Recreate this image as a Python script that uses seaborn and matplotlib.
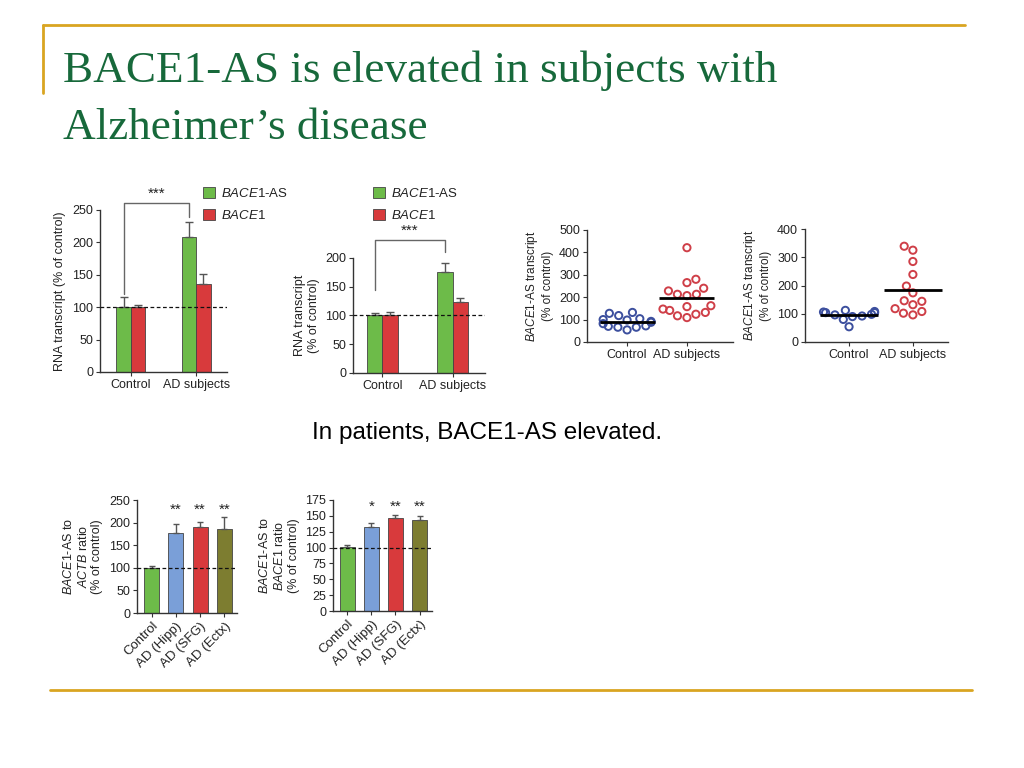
import numpy as np
import pandas as pd
import matplotlib.pyplot as plt
import seaborn as sns

# colours
GREEN = '#6dbb49'
RED = '#d83a3c'
BLUE = '#7a9fd8'
OLIVE = '#7d7d30'
PT_BLUE = '#3c4f9e'
PT_RED = '#cf3f48'
GOLD = '#d9a521'
TITLE_GREEN = '#17693b'
INK = '#333333'

# top-left / top-middle bar panels
groups = ['Control', 'AD subjects']
genes = [r'$\mathit{BACE1}$-AS', r'$\mathit{BACE1}$']
a_as_mean = [100, 208]
a_as_top = [116, 232]
a_b1_mean = [100, 136]
a_b1_top = [104, 152]
b_as_mean = [100, 176]
b_as_top = [104, 191]
b_b1_mean = [100, 124]
b_b1_top = [106, 130]

# scatter panels (BACE1-AS transcript, % of control)
c_control = [118, 132, 104, 98, 88, 82, 128, 72, 66, 54, 66, 70, 92, 100]
c_ad = [421, 280, 265, 240, 228, 213, 207, 213, 162, 158, 141, 147, 132, 124, 109, 117]
d_control = [108, 104, 98, 92, 90, 104, 112, 106, 96, 80, 54]
d_ad = [339, 325, 285, 239, 198, 174, 144, 146, 132, 108, 96, 102, 118]

# bottom ratio panels
regions = ['Control', 'AD (Hipp)', 'AD (SFG)', 'AD (Ectx)']
region_colors = [GREEN, BLUE, RED, OLIVE]
e_mean = [100, 178, 190, 186]
e_top = [104, 198, 201, 212]
e_stars = ['', '**', '**', '**']
f_mean = [101, 132, 146, 143]
f_top = [104, 139, 152, 149]
f_stars = ['', '*', '**', '**']

sns.set_theme(style='ticks')
plt.rcParams['font.family'] = ['Liberation Sans', 'DejaVu Sans']
plt.rcParams['mathtext.fontset'] = 'custom'
plt.rcParams['mathtext.rm'] = 'Liberation Sans'
plt.rcParams['mathtext.it'] = 'Liberation Sans:italic'
plt.rcParams['mathtext.bf'] = 'Liberation Sans:bold'
plt.rcParams['axes.edgecolor'] = INK
plt.rcParams['axes.linewidth'] = 1.0
plt.rcParams['xtick.color'] = INK
plt.rcParams['ytick.color'] = INK
plt.rcParams['text.color'] = '#222222'
plt.rcParams['axes.labelcolor'] = '#222222'

W, H = 1024, 768
fig = plt.figure(figsize=(W / 100, H / 100), dpi=100)
fig.patch.set_facecolor('white')


def add_ax(left, top, right, bottom):
    return fig.add_axes([left / W, 1 - bottom / H, (right - left) / W, (bottom - top) / H])


def style_ax(ax, ylim, step, size=9):
    ax.set_ylim(0, ylim)
    ax.set_yticks(np.arange(0, ylim + 1, step))
    ax.tick_params(axis='both', direction='out', length=3, width=0.8,
                   labelsize=size, pad=2, colors=INK, labelcolor='#222222')
    ax.set_xlabel('')
    ax.set_facecolor('none')
    sns.despine(ax=ax)


def pair_panel(ax, as_mean, as_top, b1_mean, b1_top, ylim, xlim, legend_xy, ylabel):
    df = pd.DataFrame({
        'group': groups * 2,
        'gene': [genes[0]] * 2 + [genes[1]] * 2,
        'value': as_mean + b1_mean,
    })
    sns.barplot(data=df, x='group', y='value', hue='gene', order=groups, hue_order=genes,
                palette=[GREEN, RED], saturation=1, width=0.44, errorbar=None,
                edgecolor='#444444', linewidth=0.6, ax=ax)
    for cont, means, tops in zip(ax.containers, [as_mean, b1_mean], [as_top, b1_top]):
        xs = [p.get_x() + p.get_width() / 2 for p in cont.patches]
        up = np.array(tops) - np.array(means)
        ax.errorbar(xs, means, yerr=[np.zeros(len(up)), up], fmt='none', ecolor='#555555',
                    elinewidth=1, capsize=3, capthick=1)
    ax.axhline(100, ls=(0, (3, 2)), color='#111111', lw=0.9, zorder=3)
    ax.set_xlim(*xlim)
    style_ax(ax, ylim, 50)
    ax.set_ylabel(ylabel, fontsize=9)
    sns.move_legend(ax, 'upper left', bbox_to_anchor=(legend_xy[0] / W, 1 - legend_xy[1] / H),
                    bbox_transform=fig.transFigure, frameon=False, title=None, fontsize=9.5,
                    handlelength=0.9, handleheight=0.9, handletextpad=0.5,
                    labelspacing=0.7, borderpad=0, borderaxespad=0)
    return [p.get_x() + p.get_width() / 2 for p in ax.containers[0].patches]


def bracket(ax, xs, y_left, y_top, y_right):
    ax.plot([xs[0], xs[0], xs[1], xs[1]], [y_left, y_top, y_top, y_right],
            color='#666666', lw=1, clip_on=False)
    ax.text(np.mean(xs), y_top + 3, '***', ha='center', va='bottom', fontsize=11,
            clip_on=False)


# panel 1
ax1 = add_ax(100, 210, 227, 372)
xs1 = pair_panel(ax1, a_as_mean, a_as_top, a_b1_mean, a_b1_top, 250, (-0.47, 1.47),
                 (203, 187), 'RNA transcript (% of control)')
bracket(ax1, xs1, 120, 261, 239)

# panel 2
ax2 = add_ax(353, 258, 485, 373)
xs2 = pair_panel(ax2, b_as_mean, b_as_top, b_b1_mean, b_b1_top, 200, (-0.42, 1.46),
                 (373, 187), 'RNA transcript\n(% of control)')
bracket(ax2, xs2, 145, 232, 211)


def scatter_panel(ax, control, ad, ylim, xlim):
    df = pd.DataFrame({
        'group': ['Control'] * len(control) + ['AD subjects'] * len(ad),
        'value': control + ad,
    })
    sns.swarmplot(data=df, x='group', y='value', hue='group', order=groups,
                  palette=[PT_BLUE, PT_RED], size=5.2, legend=False, ax=ax)
    for coll in ax.collections:
        fc = coll.get_facecolors()
        coll.set_edgecolors(fc)
        coll.set_facecolors('none')
        coll.set_linewidths(1.4)
    for i, vals in enumerate([control, ad]):
        ax.hlines(np.mean(vals), i - 0.46, i + 0.46, color='black', lw=2, zorder=4)
    ax.set_xlim(*xlim)
    style_ax(ax, ylim, 100)
    ax.set_ylabel(r'$\mathit{BACE1}$-AS transcript' + '\n(% of control)', fontsize=8.5)


ax3 = add_ax(587, 230, 733, 342)
scatter_panel(ax3, c_control, c_ad, 500, (-0.67, 1.77))

ax4 = add_ax(805, 229, 948, 342)
scatter_panel(ax4, d_control, d_ad, 400, (-0.69, 1.55))


def ratio_panel(ax, means, tops, stars, star_y, ylim, step, ylabel):
    sns.barplot(x=regions, y=means, hue=regions, palette=region_colors, saturation=1,
                legend=False, width=0.62, errorbar=None, edgecolor='#444444',
                linewidth=0.6, ax=ax)
    xs = [p.get_x() + p.get_width() / 2 for p in ax.patches]
    up = np.array(tops) - np.array(means)
    ax.errorbar(xs, means, yerr=[np.zeros(len(up)), up], fmt='none', ecolor='#555555',
                elinewidth=1, capsize=2.5, capthick=1)
    ax.axhline(100, ls=(0, (3, 2)), color='#111111', lw=0.9, zorder=3)
    for x, s in zip(xs, stars):
        ax.text(x, star_y, s, ha='center', va='center', fontsize=11, clip_on=False)
    ax.set_xlim(-0.6, 3.52)
    style_ax(ax, ylim, step)
    plt.setp(ax.get_xticklabels(), rotation=45, ha='right', rotation_mode='anchor',
             fontsize=9.5)
    ax.set_ylabel(ylabel, fontsize=9)


ax5 = add_ax(137, 500, 237, 613)
ratio_panel(ax5, e_mean, e_top, e_stars, 228, 250, 50,
            r'$\mathit{BACE1}$-AS to' + '\n' + r'$\mathit{ACTB}$ ratio' + '\n(% of control)')

ax6 = add_ax(333, 500, 432, 611)
ratio_panel(ax6, f_mean, f_top, f_stars, 164, 175, 25,
            r'$\mathit{BACE1}$-AS to' + '\n' + r'$\mathit{BACE1}$ ratio' + '\n(% of control)')

# slide decorations
fig.add_artist(plt.Line2D([43 / W, 965 / W], [1 - 25 / H, 1 - 25 / H], color=GOLD, lw=2))
fig.add_artist(plt.Line2D([43 / W, 43 / W], [1 - 25 / H, 1 - 93 / H], color=GOLD, lw=2))
fig.add_artist(plt.Line2D([50 / W, 972 / W], [1 - 690 / H, 1 - 690 / H], color=GOLD, lw=2))

fig.text(63 / W, 1 - 82 / H, 'BACE1-AS is elevated in subjects with', family='Liberation Serif',
         fontsize=32.5, color=TITLE_GREEN, va='baseline')
fig.text(63 / W, 1 - 139 / H, 'Alzheimer\u2019s disease', family='Liberation Serif',
         fontsize=32.5, color=TITLE_GREEN, va='baseline')
fig.text(487 / W, 1 - 433 / H, 'In patients, BACE1-AS elevated.', fontsize=17.5,
         color='black', ha='center', va='center')

fig.savefig('out.png', dpi=100, facecolor='white')
